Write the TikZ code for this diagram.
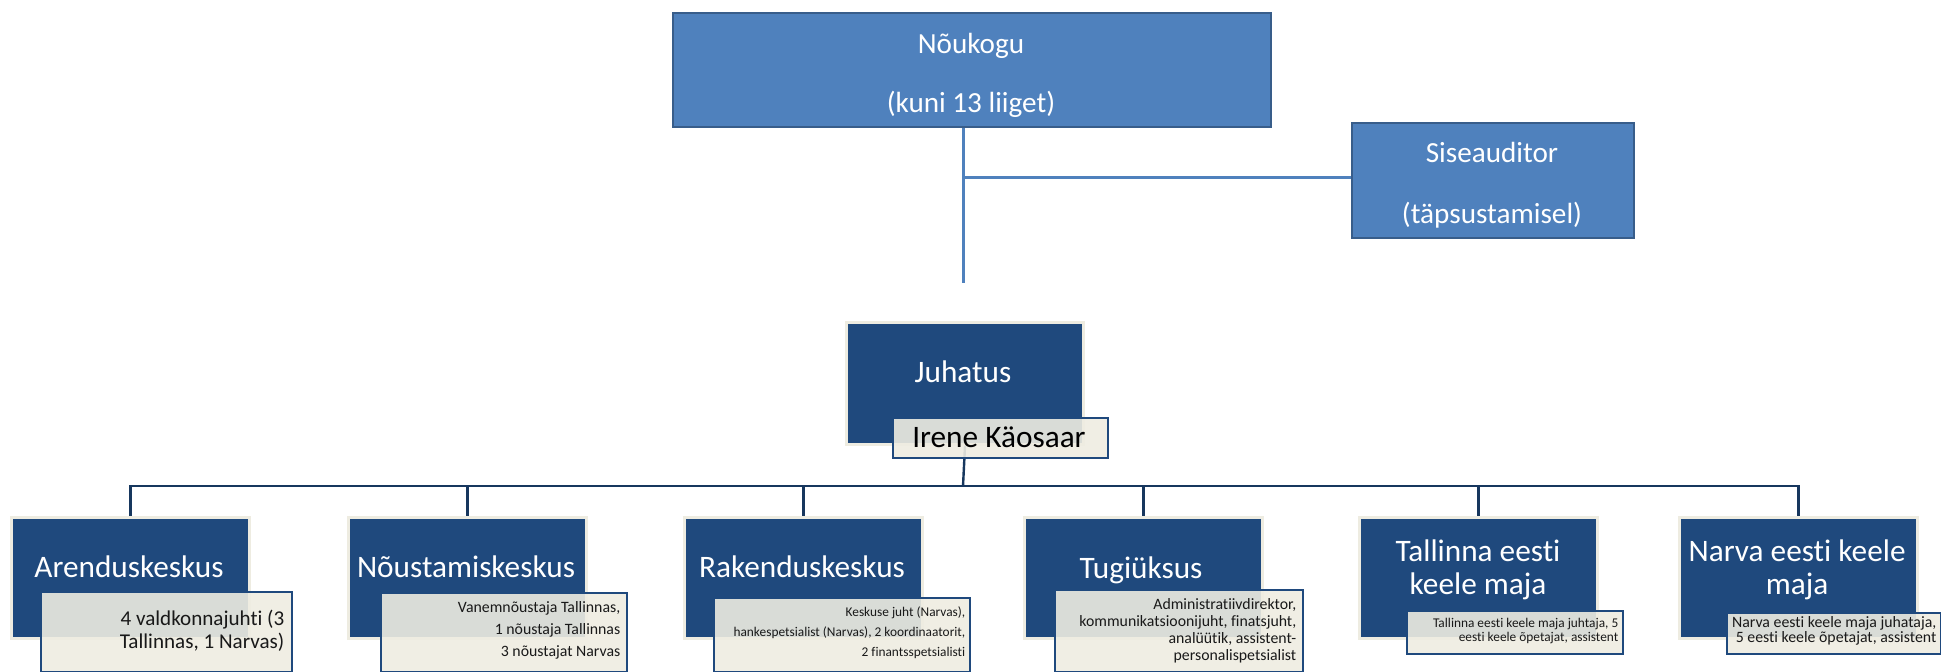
\documentclass[tikz,border=0pt]{standalone}
\usepackage{fontspec}
\setmainfont{Carlito}[Ligatures = {NoCommon, NoContextual}, Contextuals = NoAlternate]
\definecolor{lightblue}{RGB}{79,129,189}
\definecolor{lightedge}{RGB}{56,93,138}
\definecolor{darkblue}{RGB}{31,73,125}
\definecolor{cream}{RGB}{238,236,225}
\definecolor{busblue}{RGB}{23,55,94}
\lineskiplimit=-5pt

\begin{document}
\begin{tikzpicture}[x = 0.1mm, y = -0.1mm,
        topbox/.style = {rectangle, inner sep = 0, anchor = north west, fill = lightblue, draw = lightedge, line width = 0.2mm},
        unitbox/.style = {rectangle, inner sep = 0, anchor = north west, fill = darkblue, draw = cream, line width = 0.3mm, minimum width = 23.8mm, minimum height = 12.1mm},
        notebox/.style = {rectangle, inner sep = 0, anchor = north west, fill = cream, fill opacity = 0.9, draw = darkblue, line width = 0.2mm},
        toptext/.style = {anchor = base, text = white, font = \fontsize{8.3}{10}\selectfont},
        unittext/.style = {text = white, align = center, font = \fontsize{8.9}{9.4}\selectfont},
        notetext/.style = {anchor = east, align = right, text = black!90, inner sep = 0},
        uplink/.style = {draw = lightblue, line width = 0.3mm},
        downlink/.style = {draw = busblue, line width = 0.24mm}]
        \useasboundingbox (0, 0) rectangle (1941, 671);
        \node [topbox, minimum width = 59.8mm, minimum height = 11.4mm] (nou) at (672, 12) {};
        \node [toptext] (nouA) at (971, 53) {Nõukogu};
        \node [toptext] (nouB) at (971, 112) {(kuni 13 liiget)};
        \node [topbox, minimum width = 28.2mm, minimum height = 11.5mm] (sis) at (1351, 122) {};
        \node [toptext] (sisA) at (1492, 162) {Siseauditor};
        \node [toptext] (sisB) at (1492, 223) {(täpsustamisel)};
        \coordinate (tap) at (963, 177);
        \coordinate (gap) at (963, 283);
        \draw [uplink] (nou.south -| tap) -- (gap);
        \draw [uplink] (tap) -- (tap -| sis.west);
        \node [unitbox, minimum width = 23.7mm, minimum height = 12.2mm] (jud) at (845, 321) {};
        \node [unittext, anchor = base] (judA) at (963, 382) {Juhatus};
        \node [unitbox] (are) at (10, 516) {};
        \node [unitbox] (nys) at (347, 516) {};
        \node [unitbox] (rak) at (683, 516) {};
        \node [unitbox] (tug) at (1023, 516) {};
        \node [unitbox] (tal) at (1358, 516) {};
        \node [unitbox] (nar) at (1678, 516) {};
        \coordinate (bus) at (963, 486);
        \draw [downlink] (jud.south) -- (bus);
        \draw [downlink] (are.north) -- (are.north |- bus) -- (nar.north |- bus) -- (nar.north);
        \foreach \u in {nys, rak, tug, tal}
            \draw [downlink] (\u.north |- bus) -- (\u.north);
        \node [unittext, anchor = base] (areA) at (129, 577) {Arenduskeskus};
        \node [unittext, anchor = base] (nysA) at (466, 577) {Nõustamiskeskus};
        \node [unittext, anchor = base] (rakA) at (802, 577) {Rakenduskeskus};
        \node [unittext, anchor = base] (tugA) at (1141, 578) {Tugiüksus};
        \node [unittext] (talA) at (1478, 570) {Tallinna eesti\\keele maja};
        \node [unittext] (narA) at (1797, 570) {Narva eesti keele\\maja};
        \node [notebox, minimum width = 21.5mm, minimum height = 4mm] (ire) at (892, 417) {};
        \node [anchor = base east, font = \fontsize{8.9}{10}\selectfont] (ireA) at (1098, 447) {Irene Käosaar};
        \node [notebox, minimum width = 25.1mm, minimum height = 8mm] (areN) at (40, 591) {};
        \node [notetext, font = \fontsize{6}{6.5}\selectfont] (areT) at (285, 631) {4 valdkonnajuhti (3\\Tallinnas, 1 Narvas)};
        \node [notebox, minimum width = 24.6mm, minimum height = 7.9mm] (nysN) at (380, 592) {};
        \node [notetext, font = \fontsize{4.5}{6.3}\selectfont] (nysT) at (621, 630) {Vanemnõustaja Tallinnas,\\1 nõustaja Tallinnas\\3 nõustajat Narvas};
        \node [notebox, minimum width = 25.6mm, minimum height = 7.4mm] (rakN) at (713, 597) {};
        \node [notetext, font = \fontsize{3.8}{5.7}\selectfont] (rakT) at (966, 633) {Keskuse juht (Narvas),\\hankespetsialist (Narvas), 2 koordinaatorit,\\2 finantsspetsialisti};
        \node [notebox, minimum width = 24.8mm, minimum height = 8.2mm] (tugN) at (1054, 589) {};
        \node [notetext, font = \fontsize{4.5}{4.8}\selectfont] (tugT) at (1297, 631) {Administratiivdirektor,\\kommunikatsioonijuht, finatsjuht,\\analüütik, assistent-\\personalispetsialist};
        \node [notebox, minimum width = 21.6mm, minimum height = 4.3mm] (talN) at (1406, 610) {};
        \node [notetext, font = \fontsize{3.8}{4}\selectfont] (talT) at (1619, 631) {Tallinna eesti keele maja juhtaja, 5\\eesti keele õpetajat, assistent};
        \node [notebox, minimum width = 21.4mm, minimum height = 4.1mm] (narN) at (1726, 612) {};
        \node [notetext, font = \fontsize{4.5}{4.3}\selectfont] (narT) at (1937, 631) {Narva eesti keele maja juhataja,\\5 eesti keele õpetajat, assistent};
    \end{tikzpicture}
\end{document}
